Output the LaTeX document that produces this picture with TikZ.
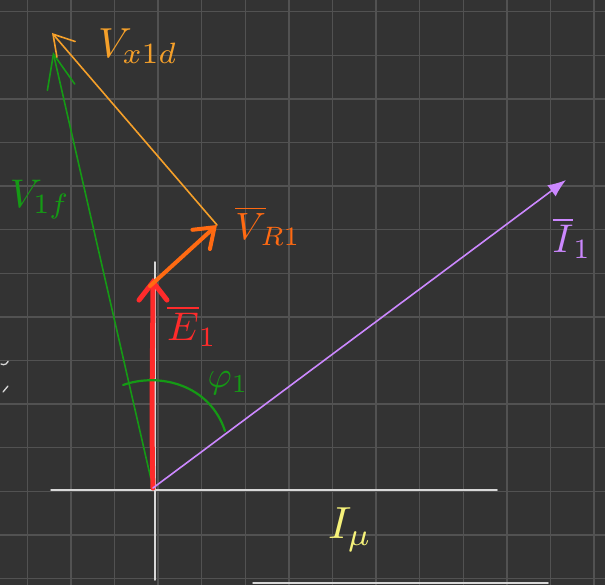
\documentclass[tikz,border=0pt]{standalone}
\usetikzlibrary{arrows.meta}
\definecolor{bg}{HTML}{333333}
\definecolor{gridc}{HTML}{525252}
\definecolor{axisc}{HTML}{D8D8D8}
\definecolor{vgreen}{HTML}{159A15}
\definecolor{vorange}{HTML}{F5A02A}
\definecolor{rorange}{HTML}{FF6A12}
\definecolor{ered}{HTML}{FF2B2B}
\definecolor{ipurple}{HTML}{CC88FF}
\definecolor{iyellow}{HTML}{F6F27A}
\tikzset{
  barb/.style 2 args={-{Straight Barb[length=#1,width=#2,line cap=round]}},
  lbl/.style={inner sep=0pt, anchor=center},
}
\begin{document}
\begin{tikzpicture}[x=1pt,y=-1pt,line cap=round]
\useasboundingbox (0,0) rectangle (605,585);
\fill[bg] (0,0) rectangle (605,585);
% grid
\foreach \k in {0,...,13}{
  \draw[gridc,line width=1.3pt] ({27.3+43.6*\k},0) -- ({27.3+43.6*\k},585);
  \draw[gridc,line width=1.3pt] (0,{11.7+43.6*\k}) -- (605,{11.7+43.6*\k});
}
% axes
\coordinate (O) at (153,488);
\coordinate (xl) at (51,490);
\coordinate (xr) at (497,490);
\coordinate (yt) at (155,262);
\coordinate (yb) at (155,580);
\draw[axisc,line width=1.5pt] (xl) -- (xr);
\draw[axisc,line width=1.5pt] (yt) -- (yb);
\coordinate (bl) at (253,583);
\coordinate (br) at (548,583);
\draw[axisc,line width=1.5pt] (bl) -- (br);
% stray marks at the left edge
\draw[axisc,line width=1.3pt] (1,364) arc[start angle=120,end angle=20,radius=5];
\draw[axisc,line width=1.3pt] (3,392) -- (8,386);
% points
\coordinate (E) at (153,278);
\coordinate (R) at (217,225);
\coordinate (X) at (52,33);
\coordinate (F) at (53,52);
\coordinate (I) at (566,180);
% V1f green
\draw[vgreen,line width=1.6pt,barb={34pt}{28pt}] (O) -- (F);
% Vx1d orange
\draw[vorange,line width=1.6pt,barb={20pt}{24pt}] (R) -- (X);
% E1 red
\draw[ered,line width=5pt,barb={18pt}{28pt}] (O) .. controls (151,420) and (153,330) .. (E);
% VR1 orange
\draw[rorange,line width=4pt,barb={18pt}{26pt}] (150,286) -- (R);
% I1 purple
\draw[ipurple,line width=1.6pt,-{Latex[length=18pt,width=14pt]}] (O) -- (I);
% angle arc
\coordinate (a1) at (123,385);
\coordinate (a2) at (225,431);
\draw[vgreen,line width=2.2pt] (a1) .. controls (160,372) and (210,385) .. (a2);
% labels
\node[lbl,text=vorange,scale=4.2] (lx) at (138,46) {$V_{x1d}$};
\node[lbl,text=vgreen,scale=4] (lf) at (40,200) {$V_{1f}$};
\node[lbl,text=rorange,scale=3.8] (lr) at (268,226) {$\overline{V}_{\!R1}$};
\node[lbl,text=ered,scale=4] (le) at (192,326) {$\overline{E}_{1}$};
\node[lbl,text=vgreen,scale=3.7] (lp) at (228,383) {$\varphi_{1}$};
\node[lbl,text=ipurple,scale=4] (li) at (572,238) {$\overline{I}_{1}$};
\node[lbl,text=iyellow,scale=4.5] (lm) at (350,530) {$I_{\mu}$};
\end{tikzpicture}
\end{document}
